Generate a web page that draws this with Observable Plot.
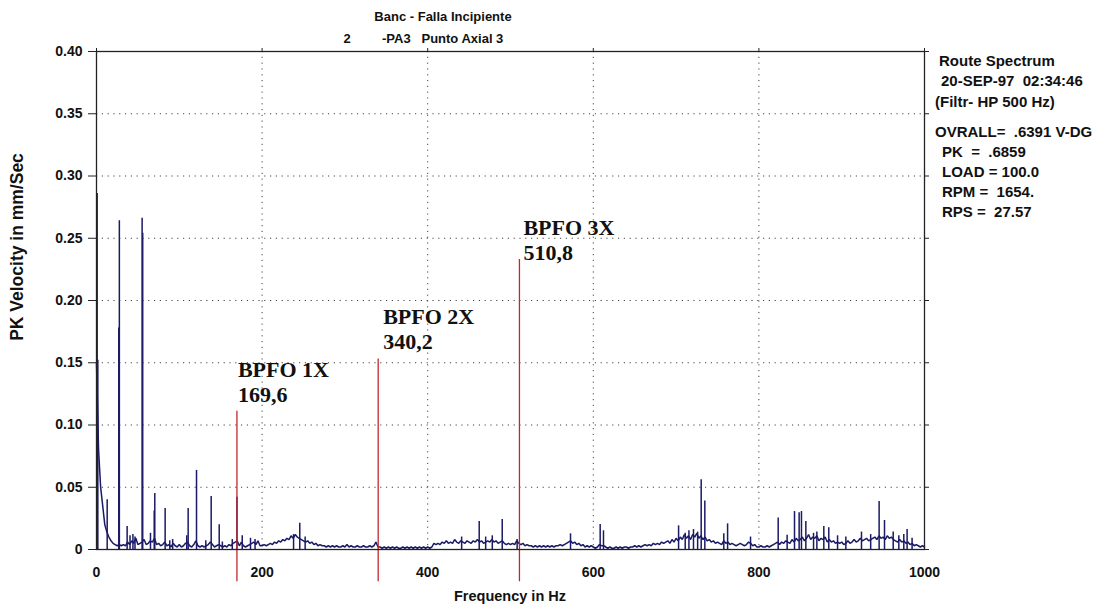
<!DOCTYPE html>
<html>
<head>
<meta charset="utf-8">
<script src="https://cdn.jsdelivr.net/npm/d3@7"></script>
<script src="https://cdn.jsdelivr.net/npm/@observablehq/plot@0.6"></script>
<style>
  html, body { margin: 0; padding: 0; background: #ffffff; }
  #chart { width: 1100px; height: 607px; }
  svg text { white-space: pre; }
</style>
</head>
<body>
<div id="chart"></div>
<script>
// ---------------- DATA ----------------
const xTicks = [0, 200, 400, 600, 800, 1000];
const yTicks = [0, 0.05, 0.10, 0.15, 0.20, 0.25, 0.30, 0.35, 0.40];

// Noise floor of the spectrum, one value every 2.5 Hz from 0 to 1000 Hz (mm/s)
const floorStepHz = 2.5;
const floorVel = [
  0.150,0.080,0.050,0.035,0.020,0.014,0.010,0.007,0.005,0.004,0.003,0.004,0.003,0.004,0.003,0.006,0.004,0.007,0.005,0.009,
  0.004,0.005,0.006,0.008,0.004,0.005,0.007,0.006,0.009,0.004,0.005,0.003,0.004,0.006,0.003,0.004,0.002,0.005,0.003,0.002,
  0.004,0.002,0.003,0.005,0.006,0.003,0.002,0.004,0.007,0.003,0.002,0.003,0.002,0.003,0.004,0.006,0.004,0.002,0.003,0.004,
  0.003,0.002,0.003,0.002,0.004,0.003,0.005,0.006,0.007,0.003,0.006,0.003,0.002,0.003,0.004,0.005,0.006,0.004,0.007,0.003,
  0.003,0.004,0.003,0.004,0.005,0.004,0.006,0.005,0.007,0.006,0.008,0.007,0.009,0.008,0.011,0.009,0.012,0.010,0.009,0.008,
  0.007,0.006,0.007,0.005,0.006,0.004,0.005,0.003,0.004,0.003,0.003,0.002,0.003,0.002,0.003,0.002,0.003,0.002,0.002,0.003,
  0.002,0.004,0.002,0.003,0.002,0.002,0.003,0.002,0.002,0.003,0.002,0.002,0.003,0.002,0.003,0.006,0.002,0.002,0.001,0.002,
  0.001,0.002,0.001,0.002,0.001,0.002,0.001,0.001,0.002,0.001,0.002,0.001,0.002,0.001,0.002,0.001,0.002,0.001,0.002,0.001,
  0.002,0.001,0.002,0.005,0.004,0.005,0.004,0.006,0.005,0.007,0.005,0.006,0.005,0.008,0.006,0.005,0.007,0.006,0.005,0.007,
  0.006,0.005,0.007,0.006,0.008,0.006,0.007,0.005,0.006,0.007,0.006,0.008,0.006,0.007,0.005,0.006,0.007,0.005,0.004,0.005,
  0.004,0.005,0.004,0.007,0.005,0.004,0.005,0.003,0.004,0.003,0.003,0.002,0.003,0.002,0.003,0.002,0.003,0.002,0.003,0.002,
  0.003,0.002,0.003,0.003,0.004,0.003,0.004,0.005,0.006,0.007,0.005,0.006,0.004,0.005,0.003,0.004,0.002,0.003,0.002,0.003,
  0.002,0.001,0.002,0.004,0.003,0.003,0.002,0.001,0.002,0.001,0.001,0.002,0.001,0.002,0.001,0.002,0.002,0.001,0.002,0.002,
  0.003,0.002,0.003,0.002,0.003,0.004,0.003,0.004,0.003,0.005,0.004,0.005,0.004,0.006,0.005,0.006,0.007,0.005,0.008,0.006,
  0.009,0.007,0.010,0.008,0.012,0.009,0.011,0.008,0.012,0.010,0.013,0.009,0.011,0.008,0.010,0.007,0.008,0.006,0.007,0.005,
  0.006,0.005,0.004,0.007,0.005,0.006,0.004,0.005,0.004,0.003,0.004,0.005,0.004,0.003,0.004,0.006,0.005,0.003,0.004,0.002,
  0.002,0.003,0.002,0.002,0.003,0.002,0.003,0.004,0.005,0.006,0.004,0.006,0.005,0.007,0.006,0.005,0.008,0.006,0.009,0.007,
  0.008,0.010,0.007,0.009,0.012,0.008,0.010,0.009,0.011,0.007,0.009,0.008,0.010,0.006,0.008,0.006,0.007,0.005,0.006,0.005,
  0.006,0.004,0.005,0.007,0.005,0.006,0.008,0.006,0.007,0.009,0.007,0.008,0.009,0.007,0.008,0.009,0.010,0.008,0.011,0.009,
  0.010,0.008,0.011,0.009,0.010,0.008,0.007,0.006,0.008,0.006,0.007,0.005,0.006,0.004,0.005,0.003,0.004,0.003,0.002,0.003,
  0.002
];

// Discrete spectral lines (Hz, mm/s)
const peakHz  = [0.8, 1.6, 12.9, 26.9, 27.6, 37.0, 40.5, 44.0, 46.5, 55.1, 55.8, 65.2, 69.7, 70.4, 82.9, 88.5, 92.0,
  109.0, 110.7, 120.8, 132.0, 138.5, 148.2, 152.0, 164.0, 169.6, 176.0, 186.0, 191.5, 238.0, 245.5, 252.0,
  441.0, 462.2, 470.0, 478.0, 490.0, 508.0, 572.5, 608.3, 612.3, 703.0, 711.0, 715.5, 721.0, 726.0, 730.3, 734.7,
  757.6, 762.2, 789.9, 823.3, 834.1, 843.0, 848.6, 851.4, 856.7, 866.0, 870.0, 878.4, 884.4, 895.0, 905.0,
  923.9, 935.0, 945.2, 951.7, 962.2, 969.0, 975.0, 979.0, 985.0];
const peakVel = [0.286, 0.152, 0.040, 0.178, 0.264, 0.0185, 0.011, 0.012, 0.010, 0.266, 0.254, 0.013, 0.031, 0.045, 0.033, 0.007, 0.008,
  0.011, 0.033, 0.0635, 0.007, 0.0425, 0.0198, 0.006, 0.008, 0.042, 0.011, 0.009, 0.008, 0.012, 0.021, 0.010,
  0.010, 0.0225, 0.010, 0.011, 0.024, 0.008, 0.0126, 0.020, 0.015, 0.019, 0.013, 0.015, 0.016, 0.014, 0.056, 0.039,
  0.0126, 0.0206, 0.010, 0.0254, 0.0115, 0.0305, 0.0295, 0.0305, 0.0225, 0.013, 0.014, 0.0185, 0.0175, 0.011, 0.010,
  0.014, 0.012, 0.0385, 0.0233, 0.014, 0.011, 0.012, 0.016, 0.009];

// BPFO markers
const bpfoNames  = ["BPFO 1X", "BPFO 2X", "BPFO 3X"];
const bpfoLabels = ["169,6", "340,2", "510,8"];
const bpfoHz     = [169.6, 340.2, 510.8];
const bpfoTop    = [0.111, 0.153, 0.233];

const titleLine1 = "Banc - Falla Incipiente";
const titleNum = "2";
const titleLine2 = "-PA3   Punto Axial 3";
const infoLines = ["Route Spectrum", "20-SEP-97  02:34:46", "(Filtr- HP 500 Hz)", "OVRALL=  .6391 V-DG", "PK  =  .6859", "LOAD = 100.0", "RPM =  1654.", "RPS =  27.57"];
const xLabel = "Frequency in Hz";
const yLabel = "PK Velocity in mm/Sec";

// ---------------- BUILD ----------------
const floorData = floorVel.map((v, i) => ({f: i * floorStepHz, v}));
const peaks = peakHz.map((f, i) => ({f, v: peakVel[i]}));
const bpfo = bpfoHz.map((f, i) => ({f, top: bpfoTop[i], text: bpfoNames[i] + "\n" + bpfoLabels[i]}));

const navy = "#1a1a66";
const red = "#c0282e";
const sans = "'Liberation Sans', Arial, sans-serif";
const serif = "'Liberation Serif', 'Times New Roman', serif";
const yFmt = d => d === 0 ? "0" : d3.format(".2f")(d);
const xFmt = d => String(d);
const grid = {stroke: "#444", strokeOpacity: 1, strokeWidth: 1, strokeDasharray: "1.2,4.6"};
const bpfoText = {x: "f", y: "top", text: "text", textAnchor: "start", lineAnchor: "bottom", lineHeight: 1.14,
  fontSize: 22, fontFamily: serif, fontWeight: "bold", fill: "#111"};

const plot = Plot.plot({
  width: 1100,
  height: 607,
  marginLeft: 96,
  marginRight: 176,
  marginTop: 51,
  marginBottom: 58,
  style: {fontFamily: sans, background: "#ffffff", color: "#111", overflow: "visible"},
  x: {domain: [0, 1000]},
  y: {domain: [0, 0.4]},
  marks: [
    Plot.gridX(xTicks.slice(1, -1), grid),
    Plot.gridY(yTicks.slice(1, -1), grid),
    Plot.line(floorData, {x: "f", y: "v", stroke: navy, strokeWidth: 1.5, strokeLinejoin: "miter"}),
    Plot.ruleX(peaks, {x: "f", y1: 0, y2: "v", stroke: navy, strokeWidth: 1.5}),
    Plot.ruleX(bpfo, {x: "f", y1: -0.026, y2: "top", stroke: red, strokeWidth: 1.3}),
    Plot.frame({stroke: "#222", strokeWidth: 1.3}),
    Plot.axisY(yTicks, {anchor: "left", tickSize: 8, tickPadding: 6, tickFormat: yFmt, fontSize: 14, fontWeight: "bold", label: null, stroke: "#222"}),
    Plot.axisY(yTicks, {anchor: "right", tickSize: 4, tickFormat: () => "", label: null, stroke: "#222"}),
    Plot.axisX(xTicks, {anchor: "bottom", tickSize: 0, tickPadding: 18, tickFormat: xFmt, fontSize: 14, fontWeight: "bold", label: null}),
    Plot.axisX(xTicks, {anchor: "top", tickSize: 4, tickFormat: () => "", label: null, stroke: "#222"}),
    Plot.text([bpfo[0]], {...bpfoText, dx: 1, dy: -9}),
    Plot.text([bpfo[1]], {...bpfoText, dx: 5, dy: -10}),
    Plot.text([bpfo[2]], {...bpfoText, dx: 4, dy: 1})
  ]
});

const svg = d3.select(plot);
const addText = (str, x, y, opts = {}) => {
  const t = svg.append("text")
    .attr("x", x).attr("y", y)
    .attr("font-family", sans)
    .attr("font-size", opts.size || 13)
    .attr("font-weight", opts.weight || "bold")
    .attr("fill", "#111")
    .attr("text-anchor", opts.anchor || "start")
    .attr("dominant-baseline", "middle")
    .text(str);
  if (opts.rotate) t.attr("transform", `rotate(-90 ${x} ${y})`);
  return t;
};

addText(titleLine1, 443, 18, {anchor: "middle"});
addText(titleNum, 347, 40, {anchor: "middle"});
addText(titleLine2, 382, 40);

const infoX = [939, 941, 935, 935, 942, 942, 942, 942];
const infoY = [62, 82, 103, 133, 153, 173, 193, 213];
infoLines.forEach((s, i) => addText(s, infoX[i], infoY[i], {size: 15}));

addText(xLabel, 510, 597, {anchor: "middle", size: 14.5});
addText(yLabel, 18, 247, {anchor: "middle", size: 17.5, rotate: true});

document.getElementById("chart").appendChild(plot);
</script>
</body>
</html>
